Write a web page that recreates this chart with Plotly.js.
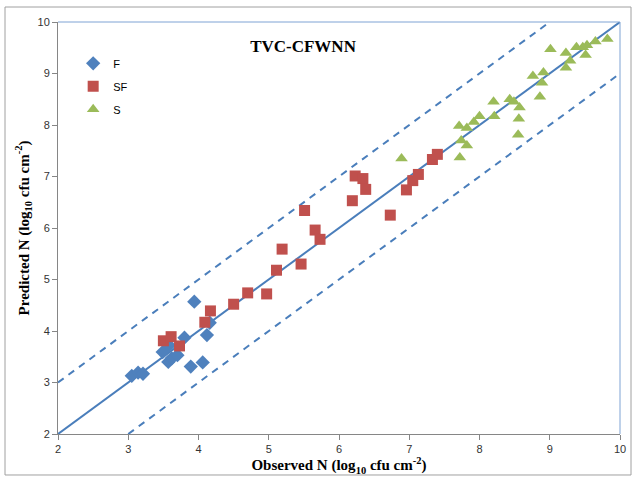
<!DOCTYPE html>
<html>
<head>
<meta charset="utf-8">
<script src="https://cdn.plot.ly/plotly-3.0.1.min.js"></script>
<style>html,body{margin:0;padding:0;background:#fff;}#chart{width:636px;height:480px;}</style>
</head>
<body>
<div id="chart"></div>
<script>
// F series
var fObserved = [3.05, 3.14, 3.21, 3.49, 3.57, 3.58, 3.62, 3.70, 3.80, 3.89, 3.94, 4.06, 4.12, 4.16];
var fPredicted = [3.13, 3.19, 3.17, 3.59, 3.40, 3.72, 3.47, 3.53, 3.87, 3.31, 4.57, 3.39, 3.92, 4.16];
// SF series
var sfObserved = [3.50, 3.61, 3.73, 4.09, 4.17, 4.50, 4.70, 4.97, 5.11, 5.19, 5.46, 5.51, 5.66, 5.73, 6.19, 6.23, 6.34, 6.38, 6.73, 6.96, 7.05, 7.13, 7.33, 7.40];
var sfPredicted = [3.81, 3.89, 3.71, 4.17, 4.39, 4.52, 4.74, 4.72, 5.18, 5.59, 5.30, 6.34, 5.96, 5.78, 6.53, 7.01, 6.96, 6.75, 6.25, 6.74, 6.92, 7.04, 7.33, 7.43];
// S series
var sObserved = [6.89, 7.72, 7.74, 7.82, 7.71, 7.82, 7.92, 8.00, 8.20, 8.21, 8.43, 8.49, 8.57, 8.56, 8.55, 8.76, 8.91, 8.89, 8.86, 9.01, 9.23, 9.29, 9.23, 9.38, 9.47, 9.53, 9.51, 9.65, 9.82];
var sPredicted = [7.35, 7.37, 7.70, 7.60, 7.98, 7.94, 8.06, 8.17, 8.45, 8.17, 8.50, 8.45, 8.34, 8.12, 7.81, 8.95, 9.02, 8.82, 8.55, 9.47, 9.40, 9.25, 9.11, 9.51, 9.51, 9.55, 9.36, 9.62, 9.67];
// reference lines
var lineX = [2, 10];
var lineY = [2, 10];
var upperX = [2, 9];
var upperY = [3, 10];
var lowerX = [3, 10];
var lowerY = [2, 9];
var tickVals = [2, 3, 4, 5, 6, 7, 8, 9, 10];

var lineColor = '#4a7ebb';
var traces = [
  {x: lineX, y: lineY, mode: 'lines', line: {color: lineColor, width: 2}, showlegend: false, hoverinfo: 'skip'},
  {x: upperX, y: upperY, mode: 'lines', line: {color: lineColor, width: 2, dash: '7px,6px'}, showlegend: false, hoverinfo: 'skip'},
  {x: lowerX, y: lowerY, mode: 'lines', line: {color: lineColor, width: 2, dash: '7px,6px'}, showlegend: false, hoverinfo: 'skip'},
  {x: fObserved, y: fPredicted, name: 'F', legendgroup: 'F', mode: 'markers', type: 'scatter',
   marker: {symbol: 'diamond', size: 11, color: '#4f81bd'}},
  {x: sfObserved, y: sfPredicted, name: 'SF', legendgroup: 'SF', mode: 'markers', type: 'scatter',
   marker: {symbol: 'square', size: 11, color: '#c0504d'}},
  {x: sObserved, y: sPredicted, name: 'S', legendgroup: 'S', mode: 'markers', type: 'scatter',
   marker: {symbol: 'triangle-up', size: 11, color: '#9bbb59'}}
];

var axisTitleFont = {family: '"Liberation Serif", "Times New Roman", serif', size: 15, color: '#000'};
var tickFont = {family: '"Liberation Sans", Arial, sans-serif', size: 11, color: '#333'};

var layout = {
  width: 636, height: 480,
  margin: {l: 58, r: 16, t: 22, b: 46},
  paper_bgcolor: '#fff', plot_bgcolor: '#fff',
  showlegend: true,
  legend: {x: 0.027, y: 0.935, xanchor: 'left', yanchor: 'top', bgcolor: 'rgba(0,0,0,0)',
           font: {family: '"Liberation Sans", Arial, sans-serif', size: 11, color: '#000'},
           itemwidth: 30, tracegroupgap: 4},
  title: {text: '<b>TVC-CFWNN</b>', xref: 'paper', x: 0.436, xanchor: 'center', y: 0.905, yanchor: 'middle',
          font: {family: '"Liberation Serif", "Times New Roman", serif', size: 17, color: '#000'}},
  xaxis: {range: [2, 10], tickvals: tickVals, showgrid: false, zeroline: false,
          showline: true, linecolor: '#868686', linewidth: 1, ticks: 'outside', ticklen: 5, tickcolor: '#868686',
          tickfont: tickFont,
          title: {text: '<b>Observed N (log<sub>10</sub> cfu cm<sup>-2</sup>)</b>', font: axisTitleFont, standoff: 4}},
  yaxis: {range: [2, 10], tickvals: tickVals, showgrid: false, zeroline: false,
          showline: true, linecolor: '#868686', linewidth: 1, ticks: 'outside', ticklen: 5, tickcolor: '#868686',
          tickfont: tickFont,
          title: {text: '<b>Predicted N (log<sub>10</sub> cfu cm<sup>-2</sup>)</b>', font: axisTitleFont, standoff: 4}},
  shapes: [
    {type: 'line', xref: 'paper', yref: 'paper', x0: 0, x1: 1, y0: 1, y1: 1, line: {color: '#7fa3d4', width: 1}},
    {type: 'line', xref: 'paper', yref: 'paper', x0: 1, x1: 1, y0: 0, y1: 1, line: {color: '#7fa3d4', width: 1}},
    {type: 'rect', xref: 'paper', yref: 'paper', x0: -0.0943, x1: 1.0196, y0: -0.0995, y1: 1.0364,
     line: {color: '#a0a0a0', width: 1}}
  ]
};

Plotly.newPlot('chart', traces, layout, {displayModeBar: false, staticPlot: true});
</script>
</body>
</html>
